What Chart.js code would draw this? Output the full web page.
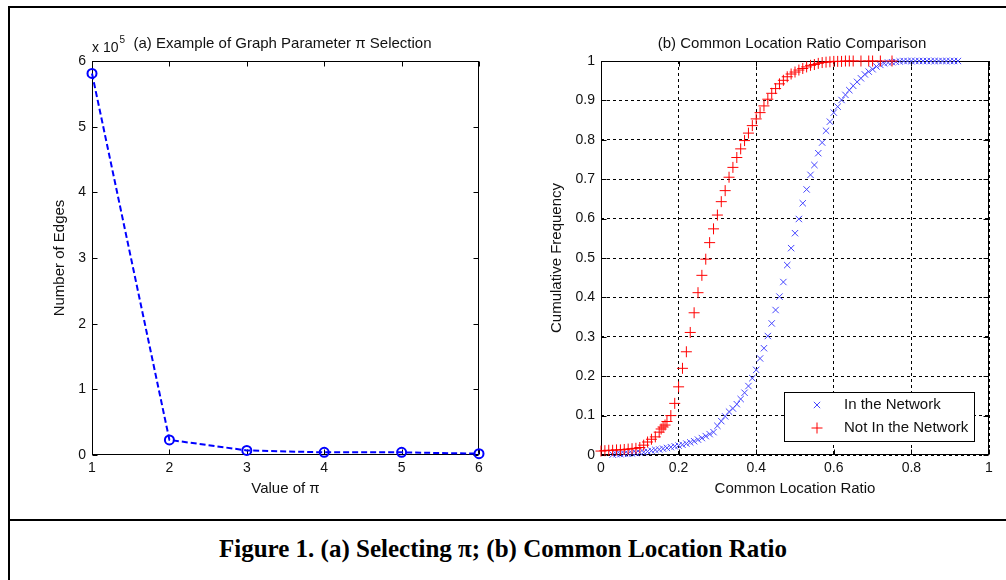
<!DOCTYPE html>
<html>
<head>
<meta charset="utf-8">
<script src="https://cdn.jsdelivr.net/npm/chart.js@4.4.1/dist/chart.umd.min.js"></script>
<style>
  html, body { margin: 0; padding: 0; background: #fff; overflow: hidden; }
  body { width: 1006px; height: 580px; position: relative; }
  #frame { position: absolute; left: 8px; top: 6px; width: 1010px; height: 600px; border: 2px solid #000; box-sizing: border-box; }
  #sep { position: absolute; left: 8px; top: 519px; width: 1000px; height: 2px; background: #000; }
  #left { position: absolute; left: 20px; top: 0; }
  #right { position: absolute; left: 520px; top: 0; }
  #caption { position: absolute; left: 0; top: 535px; width: 1006px; text-align: center;
             font: bold 25px "Liberation Serif", "Times New Roman", serif; color: #000; }
</style>
</head>
<body>
<div id="frame"></div>
<div id="sep"></div>
<canvas id="left" width="490" height="515"></canvas>
<canvas id="right" width="486" height="515"></canvas>
<div id="caption">Figure 1. (a) Selecting π; (b) Common Location Ratio</div>

<script>
// (a) number of edges for each value of pi
const piValues = [1, 2, 3, 4, 5, 6];
const edgeCounts = [581000, 23000, 7000, 4000, 4000, 2000];
const edgeTicks = [0, 1, 2, 3, 4, 5, 6];

// (b) cumulative frequency of the common location ratio
const notInX = [0.00, 0.01, 0.02, 0.03, 0.04, 0.05, 0.06, 0.07, 0.08, 0.09,
  0.10, 0.11, 0.12, 0.13, 0.14, 0.15, 0.155, 0.16, 0.165, 0.17, 0.18, 0.19,
  0.20, 0.21, 0.22, 0.23, 0.24, 0.25, 0.26, 0.27, 0.28, 0.29,
  0.30, 0.31, 0.32, 0.33, 0.34, 0.35, 0.36, 0.37, 0.38, 0.39,
  0.40, 0.41, 0.42, 0.43, 0.44, 0.45, 0.46, 0.47, 0.48, 0.49,
  0.50, 0.51, 0.52, 0.53, 0.54, 0.55, 0.56, 0.57, 0.58, 0.59,
  0.60, 0.61, 0.62, 0.63, 0.64, 0.65, 0.67, 0.69, 0.70, 0.72, 0.75];
const notInY = [0.010, 0.011, 0.012, 0.012, 0.013, 0.013, 0.014, 0.015, 0.016, 0.017,
  0.019, 0.025, 0.033, 0.040, 0.046, 0.058, 0.066, 0.071, 0.076, 0.085, 0.100, 0.131,
  0.173, 0.220, 0.262, 0.311, 0.361, 0.412, 0.456, 0.497, 0.539, 0.574,
  0.609, 0.643, 0.671, 0.705, 0.730, 0.755, 0.777, 0.798, 0.817, 0.836,
  0.853, 0.869, 0.886, 0.903, 0.918, 0.930, 0.942, 0.951, 0.960, 0.967,
  0.972, 0.977, 0.981, 0.985, 0.989, 0.991, 0.994, 0.996, 0.997, 0.998,
  0.999, 0.999, 0.999, 1, 1, 1, 1, 1, 1, 1, 1];

const inX = [0.03, 0.04, 0.05, 0.06, 0.07, 0.08, 0.09,
  0.10, 0.11, 0.12, 0.13, 0.14, 0.15, 0.16, 0.17, 0.18, 0.19,
  0.20, 0.21, 0.22, 0.23, 0.24, 0.25, 0.26, 0.27, 0.28, 0.29,
  0.30, 0.31, 0.32, 0.33, 0.34, 0.35, 0.36, 0.37, 0.38, 0.39,
  0.40, 0.41, 0.42, 0.43, 0.44, 0.45, 0.46, 0.47, 0.48, 0.49,
  0.50, 0.51, 0.52, 0.53, 0.54, 0.55, 0.56, 0.57, 0.58, 0.59,
  0.60, 0.61, 0.62, 0.63, 0.64, 0.65, 0.66, 0.67, 0.68, 0.69,
  0.70, 0.71, 0.72, 0.73, 0.74, 0.75, 0.76, 0.77, 0.78, 0.79,
  0.80, 0.81, 0.82, 0.83, 0.84, 0.85, 0.86, 0.87, 0.88, 0.89,
  0.90, 0.91, 0.92];
const inY = [0.001, 0.002, 0.002, 0.003, 0.003, 0.004, 0.005,
  0.006, 0.007, 0.009, 0.011, 0.013, 0.014, 0.016, 0.018, 0.020, 0.022,
  0.024, 0.026, 0.029, 0.032, 0.035, 0.039, 0.043, 0.048, 0.053, 0.058,
  0.074, 0.086, 0.098, 0.110, 0.118, 0.129, 0.142, 0.158, 0.175, 0.195,
  0.216, 0.245, 0.271, 0.302, 0.334, 0.368, 0.402, 0.439, 0.482, 0.525,
  0.563, 0.599, 0.639, 0.674, 0.711, 0.736, 0.766, 0.793, 0.823, 0.846,
  0.869, 0.884, 0.901, 0.914, 0.926, 0.937, 0.947, 0.956, 0.966, 0.973,
  0.979, 0.986, 0.990, 0.994, 0.996, 0.997, 0.998, 0.999, 1, 1,
  1, 1, 1, 1, 1, 1, 1, 1, 1, 1,
  1, 1, 1];
const ratioTicks = [0, 0.2, 0.4, 0.6, 0.8, 1];

const SANS = '"Liberation Sans", Arial, sans-serif';
const INK = '#111';

// box round the plot area with matlab style inward ticks
const boxTicks = {
  id: 'boxTicks',
  beforeDatasetsDraw(chart) {
    const { ctx, chartArea: a, scales } = chart;
    const L = Math.round(a.left) + 0.5, R = Math.round(a.right) - 0.5;
    const T = Math.round(a.top) + 0.5, B = Math.round(a.bottom) - 0.5;
    ctx.save();
    ctx.setLineDash([]);
    ctx.strokeStyle = '#000';
    ctx.lineWidth = 1;
    ctx.beginPath();
    scales.x.ticks.forEach(t => {
      const px = Math.round(scales.x.getPixelForValue(t.value)) + 0.5;
      ctx.moveTo(px, B); ctx.lineTo(px, B - 5);
      ctx.moveTo(px, T); ctx.lineTo(px, T + 5);
    });
    scales.y.ticks.forEach(t => {
      const py = Math.round(scales.y.getPixelForValue(t.value)) + 0.5;
      ctx.moveTo(L, py); ctx.lineTo(L + 5, py);
      ctx.moveTo(R, py); ctx.lineTo(R - 5, py);
    });
    ctx.stroke();
    ctx.strokeRect(L, T, R - L, B - T);
    ctx.restore();
  }
};

// title above the plot, plus the x 10^5 multiplier for (a)
const heading = {
  id: 'heading',
  afterDraw(chart, args, opts) {
    const { ctx, chartArea: a } = chart;
    ctx.save();
    ctx.fillStyle = INK;
    ctx.font = '15px ' + SANS;
    ctx.textAlign = 'center';
    ctx.fillText(opts.text, (a.left + a.right) / 2 - 3, a.top - 13);
    if (opts.exponent) {
      ctx.textAlign = 'left';
      ctx.font = '14px ' + SANS;
      ctx.fillText('x 10', a.left, a.top - 9);
      const w = ctx.measureText('x 10').width;
      ctx.font = '10px ' + SANS;
      ctx.fillText(opts.exponent, a.left + w + 1, a.top - 18);
    }
    ctx.restore();
  }
};

// boxed legend in the lower right corner of (b)
const boxLegend = {
  id: 'boxLegend',
  afterDraw(chart) {
    const { ctx, chartArea: a } = chart;
    const w = 190, h = 49;
    const x0 = Math.round(a.right - 15 - w), y0 = Math.round(a.bottom - 14 - h);
    ctx.save();
    ctx.setLineDash([]);
    ctx.fillStyle = '#fff';
    ctx.fillRect(x0, y0, w, h);
    ctx.strokeStyle = '#000';
    ctx.lineWidth = 1;
    ctx.strokeRect(x0 + 0.5, y0 + 0.5, w, h);
    ctx.font = '15px ' + SANS;
    ctx.textBaseline = 'middle';
    chart.data.datasets.forEach((ds, i) => {
      const cy = y0 + 13 + i * 23;
      ctx.strokeStyle = ds.borderColor;
      Chart.helpers.drawPoint(ctx, { pointStyle: ds.pointStyle, radius: ds.pointRadius, borderWidth: 1, rotation: 0 }, x0 + 33, cy);
      ctx.fillStyle = INK;
      ctx.fillText(ds.label, x0 + 60, cy);
    });
    ctx.restore();
  }
};

function axisTitle(text, pad) {
  return { display: true, text: text, color: INK, font: { family: SANS, size: 15 }, padding: pad };
}

new Chart(document.getElementById('left'), {
  type: 'line',
  data: {
    datasets: [{
      label: 'Number of Edges',
      data: piValues.map((p, i) => ({ x: p, y: edgeCounts[i] })),
      borderColor: '#0000ff',
      borderWidth: 2,
      borderDash: [6, 3],
      pointStyle: 'circle',
      pointRadius: 4.5,
      pointBorderWidth: 2,
      pointBackgroundColor: 'rgba(0,0,0,0)',
      pointBorderColor: '#0000ff',
      tension: 0,
      clip: false
    }]
  },
  options: {
    responsive: false,
    animation: false,
    layout: { padding: { top: 61, left: 20, right: 31, bottom: 10 } },
    plugins: { legend: { display: false }, tooltip: { enabled: false },
               heading: { text: '(a) Example of Graph Parameter π Selection', exponent: '5' } },
    scales: {
      x: {
        type: 'linear', min: piValues[0], max: piValues[piValues.length - 1],
        ticks: { stepSize: 1, padding: 5, color: INK, font: { family: SANS, size: 14 } },
        grid: { display: false, drawTicks: false },
        border: { display: false },
        title: axisTitle('Value of π', { bottom: 7 }),
        afterFit(s) { s.height = 50; }
      },
      y: {
        min: 0, max: edgeTicks[edgeTicks.length - 1] * 1e5,
        afterBuildTicks(s) { s.ticks = edgeTicks.map(v => ({ value: v * 1e5 })); },
        ticks: { padding: 6, color: INK, font: { family: SANS, size: 14 }, callback: v => String(v / 1e5) },
        grid: { display: false, drawTicks: false },
        border: { display: false },
        title: axisTitle('Number of Edges', { top: 11 }),
        afterFit(s) { s.width = 52; }
      }
    }
  },
  plugins: [boxTicks, heading]
});

new Chart(document.getElementById('right'), {
  type: 'scatter',
  data: {
    datasets: [{
      label: 'In the Network',
      data: inX.map((x, i) => ({ x: x, y: inY[i] })),
      borderColor: 'rgb(70,70,255)',
      backgroundColor: 'rgb(70,70,255)',
      pointStyle: 'crossRot',
      pointRadius: 4.5,
      pointBorderWidth: 1,
      order: 1,
      clip: false
    }, {
      label: 'Not In the Network',
      data: notInX.map((x, i) => ({ x: x, y: notInY[i] })),
      borderColor: '#ff0000',
      backgroundColor: '#ff0000',
      pointStyle: 'cross',
      pointRadius: 5.5,
      pointBorderWidth: 1,
      order: 0,
      clip: false
    }]
  },
  options: {
    responsive: false,
    animation: false,
    layout: { padding: { top: 61, left: 10, right: 17, bottom: 10 } },
    plugins: { legend: { display: false }, tooltip: { enabled: false },
               heading: { text: '(b) Common Location Ratio Comparison' } },
    scales: {
      x: {
        type: 'linear', min: 0, max: 1,
        afterBuildTicks(s) { s.ticks = ratioTicks.map(v => ({ value: v })); },
        ticks: { padding: 5, color: INK, font: { family: SANS, size: 14 }, callback: v => String(+v.toFixed(1)) },
        grid: { color: '#000', lineWidth: 1, drawTicks: false },
        border: { display: false, dash: [3, 3] },
        title: axisTitle('Common Location Ratio', { bottom: 7 }),
        afterFit(s) { s.height = 50; }
      },
      y: {
        min: 0, max: 1,
        ticks: { stepSize: 0.1, padding: 6, color: INK, font: { family: SANS, size: 14 }, callback: v => String(+v.toFixed(1)) },
        grid: { color: '#000', lineWidth: 1, drawTicks: false },
        border: { display: false, dash: [3, 3] },
        title: axisTitle('Cumulative Frequency', { top: 18 }),
        afterFit(s) { s.width = 71; }
      }
    }
  },
  plugins: [boxTicks, heading, boxLegend]
});
</script>
</body>
</html>
